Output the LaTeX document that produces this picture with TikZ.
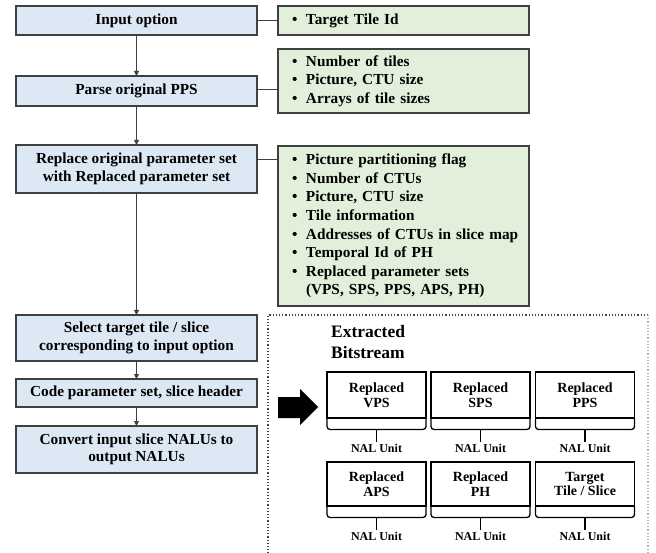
\documentclass[tikz,border=0pt]{standalone}
\usepackage{fontspec}
\setmainfont{Liberation Serif}
\usetikzlibrary{arrows.meta}
\definecolor{bluefill}{RGB}{221,232,245}
\definecolor{greenfill}{RGB}{226,239,218}
\definecolor{edgegray}{RGB}{64,64,64}
\newcommand\gitem[1]{\hspace*{8pt}\makebox[14pt][l]{•}#1}
\begin{document}
\begin{tikzpicture}[x=1pt,y=-1pt,
  bluebox/.style={draw=edgegray, fill=bluefill, line width=1.3pt, inner sep=0pt, outer sep=0pt,
    minimum width=241pt, align=center, font=\fontsize{15.3}{17.5}\selectfont\bfseries},
  greenbox/.style={draw=edgegray, fill=greenfill, line width=1.3pt, inner xsep=6pt, inner ysep=0pt, outer sep=0pt,
    text width=239pt, align=left, font=\fontsize{15.3}{18.6}\selectfont\bfseries},
  flow/.style={draw=edgegray, line width=1pt, -{Triangle[length=5pt,width=5pt]}},
  link/.style={draw=edgegray, line width=1pt},
  nalbox/.style={draw=black, line width=1.3pt, inner sep=0pt, outer sep=0pt, minimum width=99pt,
    align=center, font=\fontsize{14}{14.5}\selectfont\bfseries},
  brace/.style={draw=black, line width=1.3pt, rounded corners=3pt},
  nallabel/.style={font=\fontsize{12}{12}\selectfont\bfseries, inner sep=0pt}
]
\useasboundingbox (0,0) rectangle (656,553);

% left flow
\node[bluebox, minimum height=29pt] (in) at (136.5,20.5) {Input option};
\node[bluebox, minimum height=30pt] (parse) at (136.5,91) {Parse original PPS};
\node[bluebox, minimum height=48pt] (repl) at (136.5,169) {Replace original parameter set\\with Replaced parameter set};
\node[bluebox, minimum height=46pt] (sel) at (136.5,338) {Select target tile / slice\\corresponding to input option};
\node[bluebox, minimum height=28pt] (code) at (136.5,393) {Code parameter set, slice header};
\node[bluebox, minimum height=47pt] (conv) at (136.5,449.5) {Convert input slice NALUs to\\output NALUs};

\draw[flow] (in) -- (parse);
\draw[flow] (parse) -- (repl);
\draw[flow] (repl) -- (sel);
\draw[flow] (sel) -- (code);
\draw[flow] (code) -- (conv);

% green info boxes
\node[greenbox, minimum height=29pt] (g1) at (403.5,20.5) {\gitem{Target Tile Id}};
\node[greenbox, minimum height=64pt] (g2) at (403.5,81) {\gitem{Number of tiles}\\\gitem{Picture, CTU size}\\\gitem{Arrays of tile sizes}};
\node[greenbox, minimum height=160pt] (g3) at (403.5,226) {\gitem{Picture partitioning flag}\\\gitem{Number of CTUs}\\\gitem{Picture, CTU size}\\\gitem{Tile information}\\\gitem{Addresses of CTUs in slice map}\\\gitem{Temporal Id of PH}\\\gitem{Replaced parameter sets}\\\hspace*{22pt}(VPS, SPS, PPS, APS, PH)};

\draw[link] (in.east) -- (g1.west);
\draw[link] ([yshift=1pt]parse.east) -- ([yshift=1pt]parse.east -| g2.west);
\draw[link] ([yshift=9pt]repl.east) -- ([yshift=9pt]repl.east -| g3.west);

% dotted frame
\draw[dotted, line width=1.2pt, draw=black!75] (268,560) -- (268,315) -- (648,315);
\draw[dotted, line width=1.2pt, draw=black!30] (648,315) -- (648,560);

\node[anchor=north west, inner sep=0pt, align=left, font=\fontsize{17.5}{21}\selectfont\bfseries] (title) at (331,325) {Extracted\\Bitstream};

% big arrow
\fill[black] (278,397) -- (300,397) -- (300,389) -- (318,407) -- (300,425) -- (300,418) -- (278,418) -- cycle;

% NAL units row 1
\node[nalbox, minimum height=46pt] (b1) at (376.5,395) {Replaced\\VPS};
\node[nalbox, minimum height=46pt] (b2) at (480.5,395) {Replaced\\SPS};
\node[nalbox, minimum height=46pt] (b3) at (585,395) {Replaced\\PPS};
% row 2
\node[nalbox, minimum height=44pt] (b4) at (376.5,484) {Replaced\\APS};
\node[nalbox, minimum height=44pt] (b5) at (480.5,484) {Replaced\\PH};
\node[nalbox, minimum height=44pt] (b6) at (585,484) {Target\\Tile / Slice};

\foreach \b in {b1,b2,b3,b4,b5,b6}{
  \draw[brace] (\b.south west) -- ([yshift=-11.5pt]\b.south west) -- ([yshift=-11.5pt]\b.south east) -- (\b.south east);
  \draw[draw=black, line width=1.3pt] ([yshift=-11.5pt]\b.south) -- ([yshift=-24pt]\b.south);
  \node[nallabel] (\b lab) at ([yshift=-30pt]\b.south) {NAL Unit};
}
\end{tikzpicture}
\end{document}
